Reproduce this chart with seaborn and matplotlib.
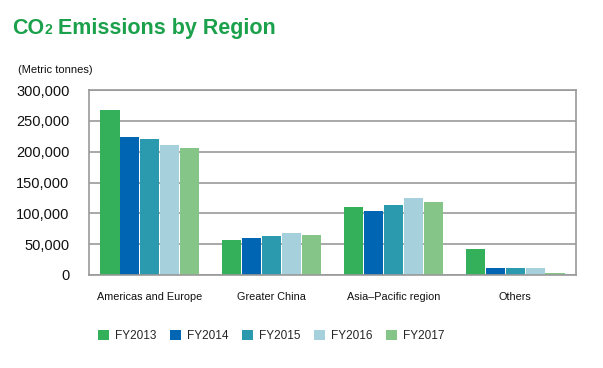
import matplotlib
matplotlib.use("Agg")
import matplotlib.pyplot as plt
import seaborn as sns
import pandas as pd
from matplotlib.ticker import FuncFormatter, FixedLocator
from matplotlib.patches import Patch

categories = ["Americas and Europe", "Greater China", "Asia\u2013Pacific region", "Others"]
years = ["FY2013", "FY2014", "FY2015", "FY2016", "FY2017"]
fy2013 = [268000, 57000, 110000, 42000]
fy2014 = [224000, 60000, 104000, 11500]
fy2015 = [220500, 63000, 113500, 11500]
fy2016 = [211000, 68000, 125000, 11500]
fy2017 = [206000, 65000, 118500, 3200]
colors = ["#35b05a", "#0066b3", "#2b9aae", "#a6d0dc", "#85c688"]
yticks = [0, 50000, 100000, 150000, 200000, 250000, 300000]

series = [fy2013, fy2014, fy2015, fy2016, fy2017]
rows = []
for y, vals in zip(years, series):
    for c, v in zip(categories, vals):
        rows.append({"Region": c, "Year": y, "Value": v})
df = pd.DataFrame(rows)

sns.set_theme(style="white")
plt.rcParams["font.family"] = ["Liberation Sans", "DejaVu Sans"]

fig = plt.figure(figsize=(6.03, 3.68), dpi=100)
ax = fig.add_axes([89/603, 1-275/368, (576-89)/603, (275-90)/368])

sns.barplot(data=df, x="Region", y="Value", hue="Year", order=categories,
            hue_order=years, palette=colors, width=0.82, gap=0.04,
            saturation=1, ax=ax, legend=False, linewidth=0)

ax.set_ylim(0, 300000)
ax.set_xlim(-0.5, 3.5)
ax.set_yticks(yticks)
ax.yaxis.set_major_formatter(FuncFormatter(lambda v, p: f"{int(v):,}"))
ax.grid(axis="y", color="#999999", linewidth=1.2)
ax.set_axisbelow(True)
for s in ax.spines.values():
    s.set_color("#999999")
    s.set_linewidth(1.2)
ax.set_xlabel("")
ax.set_ylabel("")
ax.tick_params(axis="y", length=0, pad=14, labelsize=10.5, labelcolor="#111111")
ax.tick_params(axis="x", which="major", length=0, pad=12, labelsize=7.8, labelcolor="#111111")
ax.xaxis.set_minor_locator(FixedLocator([0.5, 1.5, 2.5]))
ax.tick_params(axis="x", which="minor", length=5, width=1.2, color="#999999", direction="out")

title_y = 1 - 34/368
tco = fig.text(12/603, title_y, "CO", color="#1ba14b", fontsize=15.5, fontweight="bold",
               va="baseline", ha="left")
fig.canvas.draw()
r = fig.canvas.get_renderer()
bb = tco.get_window_extent(r)
t2 = fig.text(bb.x1/603 + 0.5/603, title_y, "2", color="#1ba14b", fontsize=10,
              fontweight="bold", va="baseline", ha="left")
bb2 = t2.get_window_extent(r)
fig.text(bb2.x1/603, title_y, " Emissions by Region", color="#1ba14b", fontsize=15.5,
         fontweight="bold", va="baseline", ha="left")

fig.text(18/603, 1-70/368, "(Metric tonnes)", fontsize=8, va="center", ha="left",
         color="#111111")

handles = [Patch(facecolor=c, edgecolor="none", label=y) for c, y in zip(colors, years)]
fig.legend(handles=handles, loc="center left", bbox_to_anchor=(87/603, 1-336/368),
           ncol=5, frameon=False, handlelength=0.95, handleheight=0.95,
           handletextpad=0.5, columnspacing=1.15, fontsize=8.5)

fig.savefig("out.png", dpi=100)
